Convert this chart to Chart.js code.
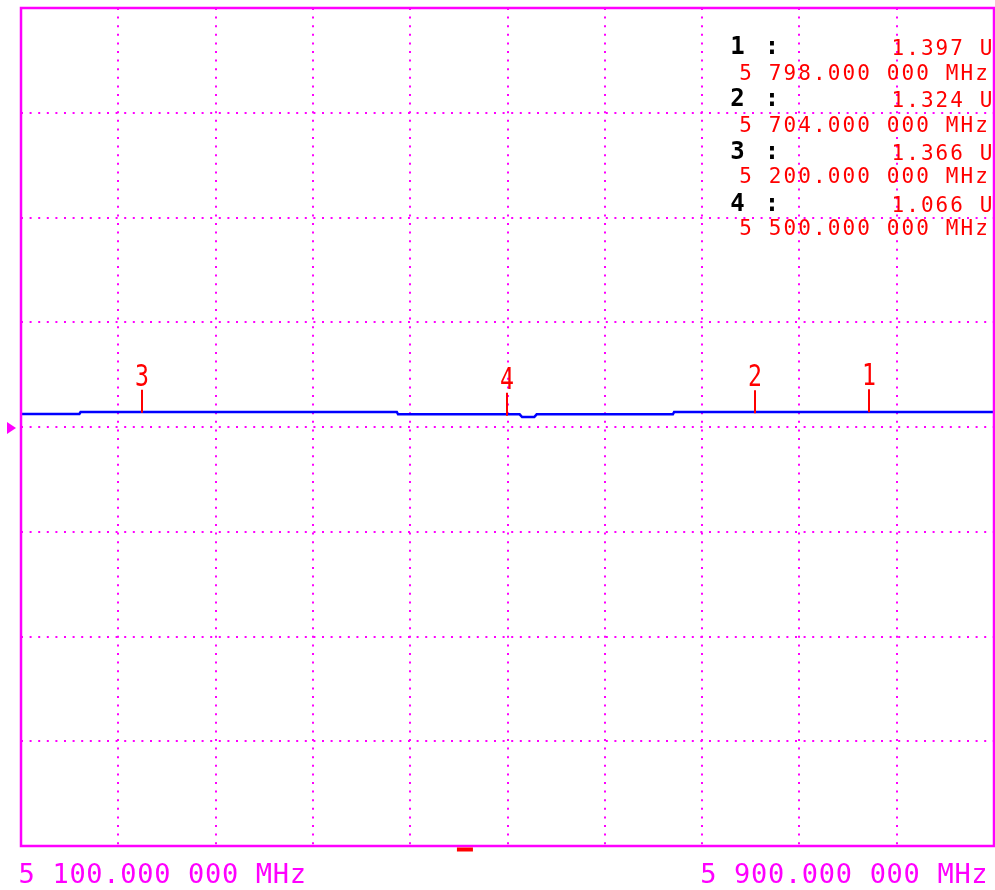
<!DOCTYPE html>
<html>
<head>
<meta charset="utf-8">
<script src="https://cdn.jsdelivr.net/npm/chart.js@4/dist/chart.umd.min.js"></script>
<style>
  html, body { margin: 0; padding: 0; background: #fff; }
  canvas { display: block; }
</style>
</head>
<body>
<canvas id="grafico" width="995" height="890"></canvas>
<script>
// sweep span (MHz) and the two span labels under the grid
const startFreq = 5100;
const stopFreq = 5900;
const spanLabels = ['5 100.000 000 MHz', '5 900.000 000 MHz'];

// measured trace, frequency (MHz) / value (U)
const traceFreq = [5100, 5148, 5149, 5409, 5410, 5510, 5512, 5522, 5524, 5636, 5637, 5900];
const traceVal  = [1.24, 1.24, 1.43, 1.43, 1.21, 1.21, 0.95, 0.95, 1.21, 1.21, 1.43, 1.43];

// markers
const markerNums = ['1', '2', '3', '4'];
const markerFreq = [5798, 5704, 5200, 5500];
const markerVal  = [1.397, 1.324, 1.366, 1.066];
const markerValText  = ['1.397 U', '1.324 U', '1.366 U', '1.066 U'];
const markerFreqText = ['5 798.000 000 MHz', '5 704.000 000 MHz', '5 200.000 000 MHz', '5 500.000 000 MHz'];

// reference level and scale (U / div)
const refLevel = 0;
const scaleDiv = 10;
const indicatorFreq = 5465;

const MAGENTA = '#ff00ff';
const RED = '#ff0000';
const BLUE = '#0000ff';

function drawMono(ctx, text, x0, base, pitch) {
  for (let i = 0; i < text.length; i++) {
    const ch = text[i];
    if (ch !== ' ') ctx.fillText(ch, x0 + i * pitch, base);
  }
}

const analyzerPlugin = {
  id: 'analyzer',
  afterDraw(chart) {
    const ctx = chart.ctx;
    const area = chart.chartArea;
    const x = chart.scales.x;
    const y = chart.scales.y;

    ctx.save();

    // frame
    ctx.strokeStyle = MAGENTA;
    ctx.lineWidth = 2.5;
    ctx.strokeRect(area.left, area.top, area.right - area.left, area.bottom - area.top);

    // reference level arrow
    const ry = y.getPixelForValue(refLevel) + 1;
    ctx.fillStyle = MAGENTA;
    ctx.beginPath();
    ctx.moveTo(7, ry - 6);
    ctx.lineTo(16, ry);
    ctx.lineTo(7, ry + 6);
    ctx.closePath();
    ctx.fill();

    // small indicator under the frame
    ctx.fillStyle = RED;
    const ix = x.getPixelForValue(indicatorFreq);
    ctx.fillRect(ix - 8, area.bottom + 1.5, 16, 4);

    // markers on the trace
    ctx.strokeStyle = RED;
    ctx.lineWidth = 2;
    for (let i = 0; i < markerNums.length; i++) {
      const mx = Math.round(x.getPixelForValue(markerFreq[i])) - 1;
      const my = y.getPixelForValue(markerVal[i]);
      ctx.beginPath();
      ctx.moveTo(mx, my - 23);
      ctx.lineTo(mx, my);
      ctx.stroke();

      ctx.save();
      ctx.translate(mx, my - 27);
      ctx.scale(0.8, 1.05);
      ctx.font = '29px "DejaVu Sans Mono"';
      ctx.textAlign = 'center';
      ctx.textBaseline = 'alphabetic';
      ctx.fillStyle = RED;
      ctx.fillText(markerNums[i], 0, 0);
      ctx.restore();
    }

    // marker readout, top right
    ctx.textAlign = 'center';
    ctx.textBaseline = 'alphabetic';
    for (let i = 0; i < markerNums.length; i++) {
      const vb = 55 + i * 52.3;
      const fb = 80 + i * 51.7;

      ctx.fillStyle = '#000';
      ctx.font = 'bold 24px "DejaVu Sans Mono"';
      ctx.fillText(markerNums[i], 737.5, vb - 1);
      ctx.fillText(':', 772, vb - 1);

      ctx.fillStyle = RED;
      ctx.font = '21px "DejaVu Sans Mono"';
      const vt = markerValText[i];
      drawMono(ctx, vt, 986 - (vt.length - 1) * 14.7, vb, 14.7);
      drawMono(ctx, markerFreqText[i], 745.5, fb, 14.76);
    }

    // span labels
    ctx.fillStyle = MAGENTA;
    ctx.font = '27px "DejaVu Sans Mono"';
    drawMono(ctx, spanLabels[0], 26.7, 883, 16.95);
    drawMono(ctx, spanLabels[1], 708.3, 883, 16.95);

    ctx.restore();
  }
};

const ctx = document.getElementById('grafico').getContext('2d');

new Chart(ctx, {
  type: 'line',
  data: {
    datasets: [{
      data: traceFreq.map((f, i) => ({ x: f, y: traceVal[i] })),
      borderColor: BLUE,
      borderWidth: 2.5,
      pointRadius: 0,
      tension: 0,
      fill: false
    }]
  },
  options: {
    responsive: false,
    animation: false,
    layout: { padding: { left: 21, top: 8, right: 1, bottom: 44 } },
    plugins: {
      legend: { display: false },
      tooltip: { enabled: false }
    },
    scales: {
      x: {
        type: 'linear',
        min: startFreq,
        max: stopFreq,
        ticks: { display: false, stepSize: (stopFreq - startFreq) / 10 },
        grid: { color: MAGENTA, lineWidth: 2, drawTicks: false },
        border: { display: false, dash: [2, 6.6] }
      },
      y: {
        type: 'linear',
        min: refLevel - 4 * scaleDiv,
        max: refLevel + 4 * scaleDiv,
        ticks: { display: false, stepSize: scaleDiv },
        grid: { color: MAGENTA, lineWidth: 2, drawTicks: false },
        border: { display: false, dash: [2, 6.6] }
      }
    }
  },
  plugins: [analyzerPlugin]
});
</script>
</body>
</html>
